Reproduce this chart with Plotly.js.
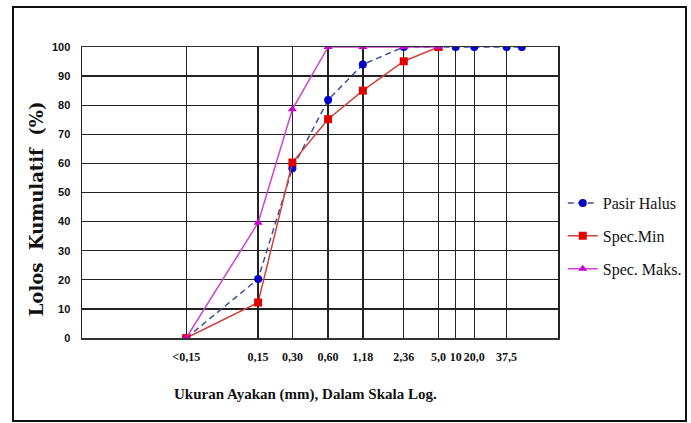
<!DOCTYPE html>
<html>
<head>
<meta charset="utf-8">
<script src="https://cdn.plot.ly/plotly-3.0.1.min.js"></script>
<style>
  html, body { margin:0; padding:0; background:#fff; }
  #wrap { position:relative; width:691px; height:423px; }
  #chart { width:691px; height:423px; }
  #frame { position:absolute; left:12px; top:6px; width:675px; height:416px; border:2px solid #111; box-sizing:border-box; pointer-events:none; }
</style>
</head>
<body>
<div id="wrap">
  <div id="chart"></div>
  <div id="frame"></div>
</div>
<script>
// Sieve sizes (labels) and their positions on the chart's log-like axis
const sieveLabels = ['<0,15', '0,15', '0,30', '0,60', '1,18', '2,36', '5,0', '10', '20,0', '37,5', ''];
const sievePos    = [2.19, 3.70, 4.42, 5.17, 5.90, 6.76, 7.49, 7.85, 8.24, 8.92, 9.24];

// Cumulative passing (%)
const pasirHalus = [0, 20.3, 58.3, 81.8, 94, 100, 100, 100, 100, 100, 100];
const specMin    = [0, 12.2, 60.3, 75.2, 85, 95.1, 100];
const specMaks   = [0, 39.6, 78.6, 100, 100, 100, 100];

const yTicks = [0,10,20,30,40,50,60,70,80,90,100];

const tickIdx = sieveLabels.map((l,i)=>i).filter(i=>sieveLabels[i] !== '');

const SERIF = '"Liberation Serif", "Times New Roman", serif';
const SANS = '"Liberation Sans", Arial, sans-serif';

const traces = [
  {
    x: sievePos.slice(0, pasirHalus.length), y: pasirHalus,
    name: 'Pasir Halus', type: 'scatter', mode: 'lines+markers',
    legendgroup: 'a',
    line: { color: '#3b4f9e', width: 1.5, dash: '6px,4px' },
    marker: { symbol: 'circle', size: 8, color: '#0000c8' }
  },
  {
    x: sievePos.slice(0, specMin.length), y: specMin,
    name: 'Spec.Min', type: 'scatter', mode: 'lines+markers',
    legendgroup: 'b',
    line: { color: '#d0403c', width: 1.5 },
    marker: { symbol: 'square', size: 8, color: '#e00000' }
  },
  {
    x: sievePos.slice(0, specMaks.length), y: specMaks,
    name: 'Spec. Maks.', type: 'scatter', mode: 'lines+markers',
    legendgroup: 'c',
    line: { color: '#cc44cc', width: 1.5 },
    marker: { symbol: 'triangle-up', size: 8, color: '#cc00cc' }
  }
];

const layout = {
  width: 691, height: 423,
  margin: { l: 82, r: 133, t: 47, b: 85, autoexpand: false },
  paper_bgcolor: '#fff', plot_bgcolor: '#fff',
  showlegend: true,
  legend: {
    x: 1.01, xanchor: 'left', y: 0.35, yanchor: 'middle',
    font: { family: SERIF, size: 16, color: '#111' },
    tracegroupgap: 9, bgcolor: 'rgba(0,0,0,0)'
  },
  xaxis: {
    range: [0, 10], showgrid: true, gridcolor: '#222', gridwidth: 1.4,
    tickmode: 'array',
    tickvals: tickIdx.map(i => sievePos[i]),
    ticktext: tickIdx.map(i => sieveLabels[i]),
    ticks: '', ticklabelstandoff: 7, tickangle: 0,
    tickfont: { family: SERIF, size: 12, color: '#111', weight: 'bold' },
    showline: true, mirror: true, linecolor: '#333', linewidth: 1.5,
    zeroline: false, fixedrange: true
  },
  yaxis: {
    range: [0, 100], showgrid: true, gridcolor: '#222', gridwidth: 1.4,
    tickmode: 'array', tickvals: yTicks, ticktext: yTicks.map(String),
    ticks: '', ticklabelstandoff: 8,
    tickfont: { family: SANS, size: 11, color: '#111', weight: 'bold' },
    showline: true, mirror: true, linecolor: '#222', linewidth: 1.5,
    zeroline: false, fixedrange: true
  },
  annotations: [
    {
      text: 'Lolos  Kumulatif  (%)', textangle: -90,
      xref: 'paper', yref: 'paper', x: -0.095, y: 0.445,
      xanchor: 'center', yanchor: 'middle', showarrow: false,
      font: { family: '"DejaVu Serif", serif', size: 18, color: '#111', weight: 'bold' }
    },
    {
      text: 'Ukuran Ayakan (mm), Dalam Skala Log.',
      xref: 'paper', yref: 'paper', x: 0.47, y: -0.194,
      xanchor: 'center', yanchor: 'middle', showarrow: false,
      font: { family: SERIF, size: 15, color: '#111', weight: 'bold' }
    }
  ]
};

Plotly.newPlot('chart', traces, layout, { displayModeBar: false, staticPlot: true });
</script>
</body>
</html>
